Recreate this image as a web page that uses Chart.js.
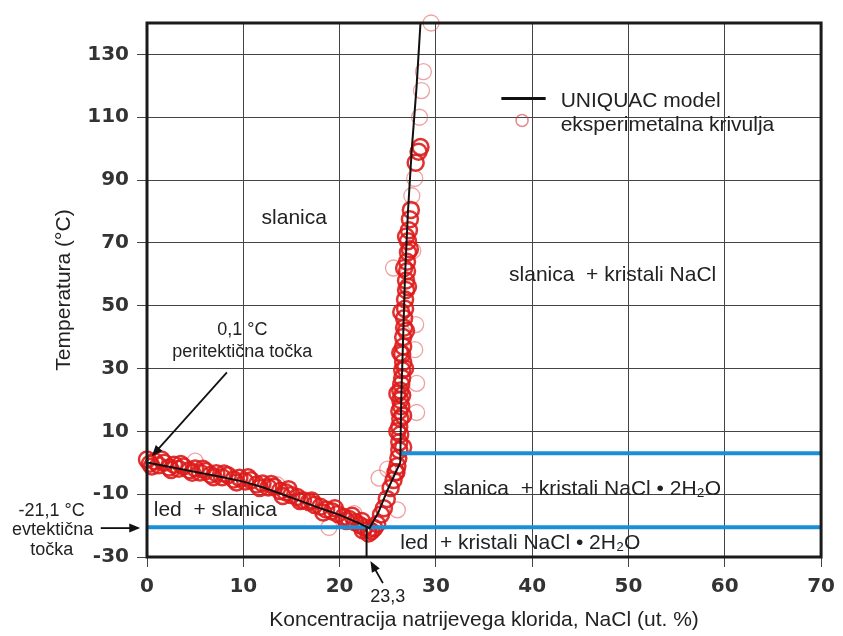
<!DOCTYPE html>
<html><head><meta charset="utf-8">
<script src="https://cdn.jsdelivr.net/npm/chart.js@4.4.1/dist/chart.umd.min.js"></script>
<style>html,body{margin:0;padding:0;background:#fff;}</style>
</head><body>
<canvas id="c" width="843" height="636"></canvas>
<script>
// ---- axis ticks ----
const xTicks = [0, 10, 20, 30, 40, 50, 60, 70];
const yTicks = [-30, -10, 10, 30, 50, 70, 90, 110, 130];

// ---- UNIQUAC model curve ----
const modelX = [0, 2, 4, 6, 8, 10, 12, 14, 16, 18, 20, 22, 23.1, 24.0, 25.0, 26.3, 26.4, 26.6, 26.8, 27.1, 27.5, 28.0, 28.4];
const modelY = [0.1, -1.1, -2.3, -3.5, -4.7, -6.0, -7.8, -10.0, -12.2, -14.5, -16.6, -19.2, -20.8, -16.0, -8.5, 0.1, 20, 40, 60, 80, 100, 120, 140];

// ---- experimental points (strong) ----
const expX = [0.0, 0.3, 0.8, 1.2, 1.8, 2.3, 2.8, 3.3, 3.8, 4.4, 5.0, 5.5, 6.1, 6.6, 7.2, 7.8, 8.4, 9.0, 9.6, 10.2,
  10.8, 11.4, 12.0, 12.6, 13.2, 13.8, 14.4, 15.0, 15.6, 16.2, 16.8, 17.4, 18.0, 18.6, 19.2, 19.8, 20.4, 21.0, 21.6, 22.1,
  22.6, 23.0, 23.3, 23.6, 23.0, 22.4,
  0.5, 1.5, 2.5, 3.5, 4.7, 5.8, 6.9, 8.0, 9.3, 10.5, 11.7, 12.9, 14.1, 14.7, 15.9, 17.1, 18.3, 19.5, 20.7, 21.3, 22.3,
  23.9, 24.3, 24.6, 24.9, 25.3, 25.6, 25.9,
  25.8, 26.0, 26.1, 26.2, 26.2, 26.3, 26.2, 26.3, 26.2, 26.4, 26.3, 26.5, 26.3, 26.4, 26.5, 26.5, 26.6, 26.5, 26.6, 26.6,
  26.7, 26.7, 26.8, 26.8, 26.9, 26.9, 27.0, 27.0, 27.1, 27.1, 27.2, 27.3, 27.4, 27.9, 28.2, 28.4,
  26.6, 26.0, 26.6, 26.0, 26.8, 26.3, 26.9, 26.4, 27.1, 26.7, 27.3, 26.9];
const expY = [1.0, -0.3, 0.5, -0.8, 0.0, -1.5, -0.6, -1.9, -1.2, -2.4, -1.8, -3.1, -2.6, -3.8, -3.3, -4.6, -4.0, -5.3, -4.8, -6.0,
  -5.6, -6.9, -6.6, -7.9, -7.6, -9.0, -9.4, -10.3, -10.9, -11.9, -12.5, -13.4, -14.0, -14.9, -15.4, -16.3, -17.2, -17.9, -18.9, -19.8,
  -20.6, -21.3, -21.8, -20.8, -22.5, -21.5,
  -1.2, 1.0, -2.3, -0.4, -3.2, -1.9, -4.6, -3.4, -6.3, -4.6, -8.0, -6.8, -10.6, -8.4, -12.2, -12.0, -15.8, -14.5, -18.5, -16.9, -18.5,
  -19.5, -16.5, -14.5, -11.5, -8.0, -5.5, -3.0,
  -3.0, -1.0, 1.5, 4.0, 6.5, 9.0, 11.5, 14.0, 16.5, 18.0, 20.0, 21.5, 23.0, 25.0, 27.0, 29.5, 32.0, 34.5, 37.0, 40.0,
  43.0, 46.0, 49.0, 52.0, 55.0, 58.0, 61.0, 64.0, 67.0, 70.5, 74.0, 77.5, 80.5, 95.5, 99.0, 100.5,
  5, 10, 15, 22, 30, 35, 42, 48, 56, 62, 68, 72];

// ---- experimental points (faint) ----
const expFaintX = [29.5, 28.7, 28.5, 28.3, 27.8, 27.5, 27.6, 27.8, 28.0, 28.0, 27.9, 25.6, 24.1, 18.9, 26.0, 13.5, 5.0, 21.5, 25.0];
const expFaintY = [140, 124.5, 118.5, 110, 90.5, 85, 67.5, 36, 25.3, 16, 44, 62, -4.9, -20.6, -15.0, -7.0, 0.5, -16.2, -2.0];

// ---- phase boundary lines ----
const eutecticX = [0, 70], eutecticY = [-20.5, -20.5];
const peritecticX = [26.3, 70], peritecticY = [3, 3];

// ---- labels ----
const regionText = ['slanica', 'slanica  + kristali NaCl', 'slanica  + kristali NaCl • 2H₂O', 'led  + kristali NaCl • 2H₂O', 'led  + slanica'];
const regionX = [11.9, 37.6, 30.8, 26.3, 0.7];
const regionY = [77.8, 59.7, -8.4, -25.5, -15];
const noteText = ['0,1 °C', 'peritektična točka', '-21,1 °C', 'evtektična', 'točka', '23,3'];
const noteX = [9.9, 9.9, -9.9, -9.8, -9.9, 25.0];
const noteY = [42.2, 35.2, -15.4, -21.4, -27.8, -42.7];
const legendText = ['UNIQUAC model', 'eksperimetalna krivulja'];

const pts = (xs, ys) => xs.map((v, i) => ({x: v, y: ys[i]}));

const SANS = '"Liberation Sans", Arial, sans-serif';

const annot = {
  id: 'annot',
  afterDatasetsDraw(chart) {
    const {ctx, chartArea: a, scales: {x, y}} = chart;
    const px = v => x.getPixelForValue(v), py = v => y.getPixelForValue(v);
    ctx.save();
    // frame
    ctx.strokeStyle = '#1a1a1a'; ctx.lineWidth = 3;
    ctx.strokeRect(a.left, a.top, a.right - a.left, a.bottom - a.top);
    // region labels
    ctx.fillStyle = '#222'; ctx.textBaseline = 'middle'; ctx.textAlign = 'left';
    ctx.font = '21px ' + SANS;
    regionText.forEach((t, i) => ctx.fillText(t, px(regionX[i]), py(regionY[i])));
    // notes
    ctx.font = '18px ' + SANS; ctx.textAlign = 'center';
    noteText.forEach((t, i) => ctx.fillText(t, px(noteX[i]), py(noteY[i])));
    // arrows
    const arrow = (x1, y1, x2, y2) => {
      const X1 = px(x1), Y1 = py(y1), X2 = px(x2), Y2 = py(y2);
      const ang = Math.atan2(Y2 - Y1, X2 - X1), L = 11, W = 4.5;
      ctx.strokeStyle = '#111'; ctx.fillStyle = '#111'; ctx.lineWidth = 1.8;
      ctx.beginPath(); ctx.moveTo(X1, Y1);
      ctx.lineTo(X2 - Math.cos(ang) * L * 0.8, Y2 - Math.sin(ang) * L * 0.8); ctx.stroke();
      ctx.beginPath(); ctx.moveTo(X2, Y2);
      ctx.lineTo(X2 - Math.cos(ang) * L - Math.sin(ang) * W, Y2 - Math.sin(ang) * L + Math.cos(ang) * W);
      ctx.lineTo(X2 - Math.cos(ang) * L + Math.sin(ang) * W, Y2 - Math.sin(ang) * L - Math.cos(ang) * W);
      ctx.closePath(); ctx.fill();
    };
    arrow(8.3, 28.8, 0.5, 2.1);
    arrow(-4.8, -20.8, -0.7, -20.8);
    arrow(24.5, -38.3, 23.2, -31.3);
    // eutectic composition marker line
    ctx.strokeStyle = '#111'; ctx.lineWidth = 2;
    ctx.beginPath(); ctx.moveTo(px(22.8), py(-20.5)); ctx.lineTo(px(22.8), py(-30)); ctx.stroke();
    // legend
    ctx.strokeStyle = '#111'; ctx.lineWidth = 3;
    ctx.beginPath(); ctx.moveTo(px(36.8), py(116)); ctx.lineTo(px(41.4), py(116)); ctx.stroke();
    ctx.strokeStyle = 'rgba(215,60,60,0.6)'; ctx.lineWidth = 1.5;
    ctx.beginPath(); ctx.arc(px(38.95), py(109), 6, 0, Math.PI * 2); ctx.stroke();
    ctx.fillStyle = '#222'; ctx.textAlign = 'left'; ctx.font = '21px ' + SANS;
    ctx.fillText(legendText[0], px(42.96), py(115));
    ctx.fillText(legendText[1], px(42.96), py(107.4));
    ctx.restore();
  }
};

new Chart(document.getElementById('c'), {
  type: 'scatter',
  data: {
    datasets: [
      {label: 'UNIQUAC model', type: 'line', data: pts(modelX, modelY), borderColor: '#111', borderWidth: 2,
       pointRadius: 0, fill: false, tension: 0, order: 0},
      {label: 'eksperimetalna krivulja', data: pts(expX, expY), borderColor: 'rgba(222,28,28,0.9)', borderWidth: 2.5,
       backgroundColor: 'rgba(0,0,0,0)', pointRadius: 8, clip: false, order: 2},
      {label: 'faint', data: pts(expFaintX, expFaintY), borderColor: 'rgba(222,70,70,0.5)', borderWidth: 1.3,
       backgroundColor: 'rgba(0,0,0,0)', pointRadius: 8, clip: false, order: 3},
      {label: 'eutectic', type: 'line', data: pts(eutecticX, eutecticY), borderColor: '#1b8fd6', borderWidth: 4,
       pointRadius: 0, fill: false, order: 1},
      {label: 'peritectic', type: 'line', data: pts(peritecticX, peritecticY), borderColor: '#1b8fd6', borderWidth: 4,
       pointRadius: 0, fill: false, order: 1}
    ]
  },
  options: {
    responsive: false, animation: false, devicePixelRatio: 1,
    layout: {padding: {top: 23, right: 15, left: 0, bottom: 0}},
    plugins: {legend: {display: false}, tooltip: {enabled: false}},
    scales: {
      x: {
        type: 'linear', min: 0, max: 70,
        afterBuildTicks: s => { s.ticks = xTicks.map(v => ({value: v})); },
        afterFit: s => { s.height = 79; },
        ticks: {font: {family: '"DejaVu Sans", Verdana, sans-serif', weight: 'bold', size: 20}, color: '#333', padding: 8, maxRotation: 0},
        grid: {color: '#444', lineWidth: 1, tickLength: 10, tickColor: '#444'},
        border: {display: false},
        title: {display: true, text: 'Koncentracija natrijevega klorida, NaCl (ut. %)', color: '#222',
                font: {family: SANS, size: 21}, padding: {top: 0, bottom: 3}}
      },
      y: {
        type: 'linear', min: -30, max: 140,
        afterBuildTicks: s => { s.ticks = yTicks.map(v => ({value: v})); },
        afterFit: s => { s.width = 147; },
        ticks: {font: {family: '"DejaVu Sans", Verdana, sans-serif', weight: 'bold', size: 20}, color: '#333', padding: 8},
        grid: {color: '#444', lineWidth: 1, tickLength: 10, tickColor: '#444'},
        border: {display: false},
        title: {display: true, text: 'Temperatura (°C)', color: '#222',
                font: {family: SANS, size: 21}, padding: {top: 52, bottom: 0}}
      }
    }
  },
  plugins: [annot]
});
</script>
</body></html>
